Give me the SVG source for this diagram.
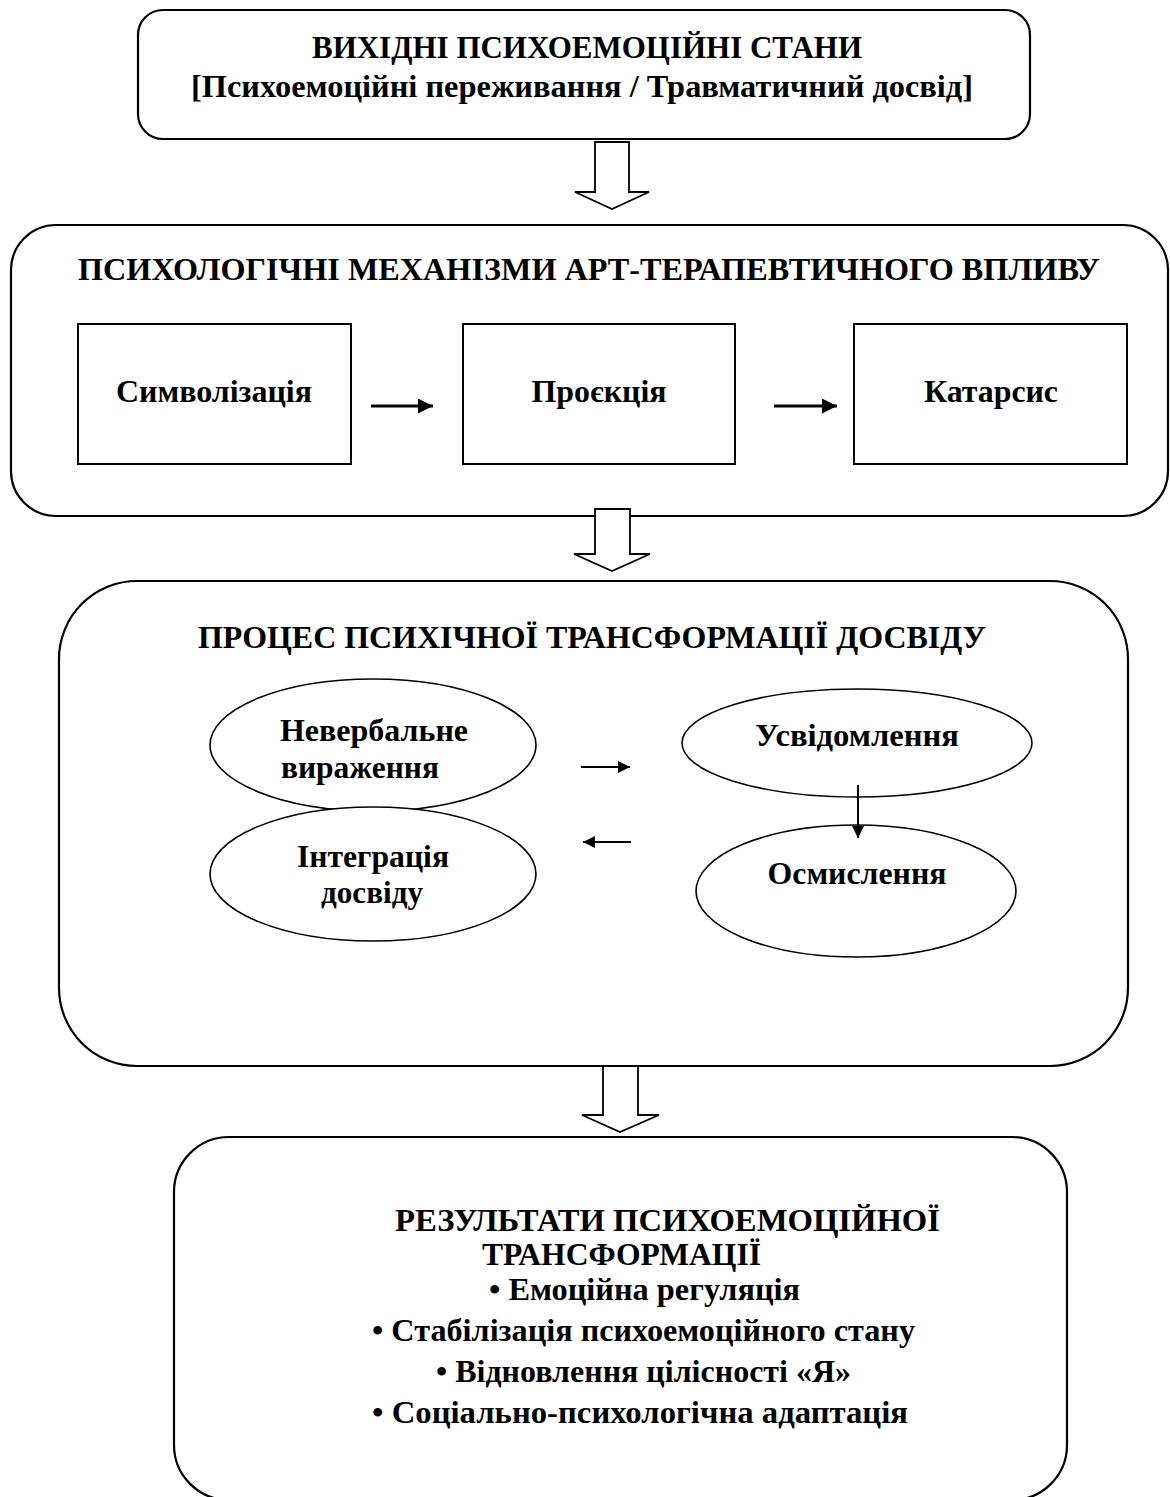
<svg xmlns="http://www.w3.org/2000/svg" width="1170" height="1497" viewBox="0 0 1170 1497">
<defs>
<style>
.box{fill:#fff;stroke:#000;stroke-width:2.2}
.inner{fill:#fff;stroke:#000;stroke-width:2}
.ell{fill:#fff;stroke:#000;stroke-width:1.6}
.t{font-family:"Liberation Serif","Times New Roman",serif;font-weight:bold;font-size:32px;fill:#000}
.m{text-anchor:middle}
.big{fill:#fff;stroke:#000;stroke-width:1.8;stroke-linejoin:miter}
.ln{stroke:#000;fill:none}
</style>
<marker id="ah" viewBox="0 0 10 10" refX="10" refY="5" markerWidth="5" markerHeight="5" markerUnits="strokeWidth" orient="auto">
<path d="M0,0 L10,5 L0,10 z" fill="#000"/>
</marker>
<marker id="ah2" viewBox="0 0 10 10" refX="10" refY="5" markerWidth="7.5" markerHeight="6" markerUnits="strokeWidth" orient="auto">
<path d="M0,0 L10,5 L0,10 z" fill="#000"/>
</marker>
</defs>
<rect width="1170" height="1497" fill="#fff"/>

<g id="node-initial">
<rect class="box" x="138" y="10" width="892" height="129" rx="25" ry="25"/>
<text class="t m" x="587" y="58" textLength="550" lengthAdjust="spacingAndGlyphs">ВИХІДНІ ПСИХОЕМОЦІЙНІ СТАНИ</text>
<text class="t m" x="582" y="97" textLength="782" lengthAdjust="spacingAndGlyphs">[Психоемоційні переживання / Травматичний досвід]</text>
</g>

<g id="node-mechanisms">
<rect class="box" x="11" y="225" width="1157" height="291" rx="45" ry="45"/>
<text class="t m" x="589" y="280" textLength="1022" lengthAdjust="spacingAndGlyphs">ПСИХОЛОГІЧНІ МЕХАНІЗМИ АРТ-ТЕРАПЕВТИЧНОГО ВПЛИВУ</text>
</g>
<g id="node-symbolization">
<rect class="inner" x="78" y="324" width="273" height="140"/>
<text class="t m" x="214" y="402" textLength="196" lengthAdjust="spacingAndGlyphs">Символізація</text>
</g>
<g id="node-projection">
<rect class="inner" x="463" y="324" width="272" height="140"/>
<text class="t m" x="599" y="402" textLength="135" lengthAdjust="spacingAndGlyphs">Проєкція</text>
</g>
<g id="node-catharsis">
<rect class="inner" x="854" y="324" width="273" height="140"/>
<text class="t m" x="991" y="402" textLength="134" lengthAdjust="spacingAndGlyphs">Катарсис</text>
</g>

<g id="node-process">
<rect class="box" x="59" y="581" width="1069" height="485" rx="78" ry="78"/>
<text class="t m" x="592" y="648" textLength="788" lengthAdjust="spacingAndGlyphs">ПРОЦЕС ПСИХІЧНОЇ ТРАНСФОРМАЦІЇ ДОСВІДУ</text>
</g>
<g id="node-nonverbal">
<ellipse class="ell" cx="373" cy="745" rx="163" ry="66"/>
<text class="t" x="280" y="741" textLength="188" lengthAdjust="spacingAndGlyphs">Невербальне</text>
<text class="t" x="281" y="778" textLength="158" lengthAdjust="spacingAndGlyphs">вираження</text>
</g>
<g id="node-integration">
<ellipse class="ell" cx="373" cy="874" rx="163" ry="67"/>
<text class="t m" x="373" y="867" textLength="152" lengthAdjust="spacingAndGlyphs">Інтеграція</text>
<text class="t m" x="372" y="903" textLength="102" lengthAdjust="spacingAndGlyphs">досвіду</text>
</g>
<g id="node-awareness">
<ellipse class="ell" cx="857" cy="743" rx="175" ry="54"/>
<text class="t m" x="857" y="746" textLength="204" lengthAdjust="spacingAndGlyphs">Усвідомлення</text>
</g>
<g id="node-comprehension">
<ellipse class="ell" cx="856" cy="891" rx="160" ry="66"/>
<text class="t m" x="857" y="884" textLength="179" lengthAdjust="spacingAndGlyphs">Осмислення</text>
</g>

<g id="node-results">
<rect class="box" x="174" y="1137" width="893" height="363" rx="55" ry="55"/>
<text class="t" x="395" y="1231" textLength="545" lengthAdjust="spacingAndGlyphs">РЕЗУЛЬТАТИ ПСИХОЕМОЦІЙНОЇ</text>
<text class="t" x="482" y="1265" textLength="279" lengthAdjust="spacingAndGlyphs">ТРАНСФОРМАЦІЇ</text>
<text class="t" x="489" y="1300" textLength="311" lengthAdjust="spacingAndGlyphs">• Емоційна регуляція</text>
<text class="t" x="372" y="1341" textLength="543" lengthAdjust="spacingAndGlyphs">• Стабілізація психоемоційного стану</text>
<text class="t" x="436" y="1382" textLength="415" lengthAdjust="spacingAndGlyphs">• Відновлення цілісності «Я»</text>
<text class="t" x="372" y="1423" textLength="536" lengthAdjust="spacingAndGlyphs">• Соціально-психологічна адаптація</text>
</g>

<g id="connectors">
<polygon class="big" points="595,142 629,142 629,192 649,192 612,209 575,192 595,192"/>
<polygon class="big" points="595,509 630,509 630,554 650,554 612,571 574,554 595,554"/>
<polygon class="big" points="603,1066 638,1066 638,1115 659,1115 620,1132 582,1115 603,1115"/>
<line class="ln" x1="371" y1="406" x2="433" y2="406" stroke-width="3" marker-end="url(#ah)"/>
<line class="ln" x1="774" y1="406" x2="837" y2="406" stroke-width="3" marker-end="url(#ah)"/>
<line class="ln" x1="581" y1="767" x2="630" y2="767" stroke-width="2" marker-end="url(#ah2)"/>
<line class="ln" x1="631" y1="842" x2="583" y2="842" stroke-width="2" marker-end="url(#ah2)"/>
<line class="ln" x1="858" y1="785" x2="858" y2="838" stroke-width="2" marker-end="url(#ah2)"/>
</g>
</svg>
